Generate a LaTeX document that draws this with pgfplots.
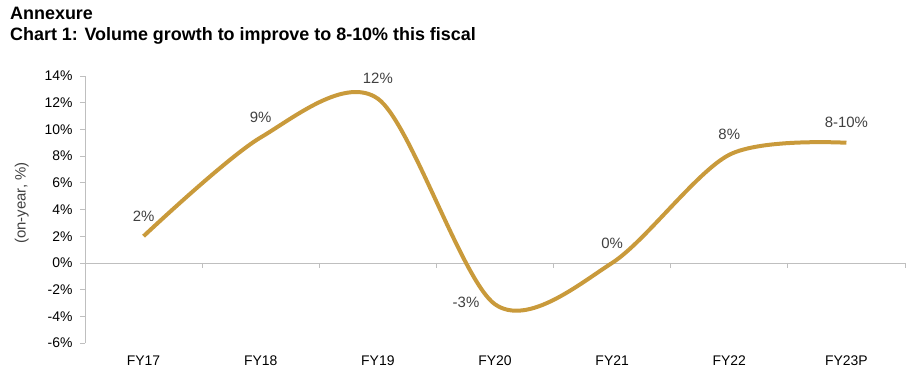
\documentclass[border=0pt]{standalone}
\usepackage{pgfplots}
\pgfplotsset{compat=1.18}
\usepackage{fontspec}
\setmainfont{Liberation Sans}
\definecolor{gold}{HTML}{C99A3B}
\definecolor{axgray}{HTML}{BFBFBF}
\definecolor{txt}{HTML}{404040}
\begin{document}
\begin{tikzpicture}[x=1bp,y=1bp]
\useasboundingbox (0,0) rectangle (921,390);
\node[anchor=base west, font=\fontsize{18}{21}\selectfont\bfseries, inner sep=0] at (10,371) {Annexure};
\node[anchor=base west, font=\fontsize{18}{21}\selectfont\bfseries, inner sep=0] at (10,350) {Chart 1: Volume growth to improve to 8-10\% this fiscal};
\begin{axis}[
  at={(85bp,47bp)}, anchor=south west,
  width=820bp, height=267bp, scale only axis,
  xmin=-0.5, xmax=6.5, ymin=-6, ymax=14,
  axis x line*=bottom, x axis line style={draw=none},
  xtick={0,...,6}, xticklabels={FY17,FY18,FY19,FY20,FY21,FY22,FY23P},
  x tick style={draw=none},
  xticklabel style={yshift=-4bp},
  axis y line*=left, y axis line style={axgray, line width=0.75bp},
  ytick={-6,-4,...,14},
  yticklabels={-6\%,-4\%,-2\%,0\%,2\%,4\%,6\%,8\%,10\%,12\%,14\%},
  y tick style={axgray, line width=0.75bp},
  yticklabel style={xshift=-4bp},
  tick align=outside, major tick length=5bp,
  ticklabel style={font=\fontsize{14}{16}\selectfont, text=black},
  ylabel={(on-year, \%)},
  ylabel style={font=\fontsize{15}{17}\selectfont, text=txt, at={(axis description cs:-0.077,0.524)}, anchor=center, rotate=0},
  clip=false,
]
\draw[axgray, line width=0.75bp] (axis cs:-0.5,0) -- (axis cs:6.5,0);
\pgfplotsinvokeforeach{0.5,1.5,2.5,3.5,4.5,5.5,6.5}{
  \draw[axgray, line width=0.75bp] (axis cs:#1,0) -- ([yshift=-5bp]axis cs:#1,0);
}
\addplot[gold, line width=4bp, smooth] coordinates {
  (0,2.0) (1,9.4) (2,12.3) (3,-3.1) (4,0.0) (5,8.1) (6,9.0)
};
\addplot[draw=none, mark=none, nodes near coords, point meta=explicit symbolic,
  nodes near coords style={anchor=center, yshift=20bp, text=txt, font=\fontsize{15}{17}\selectfont}]
  coordinates {
  (0,2.0) [2\%] (1,9.4) [9\%] (2,12.3) [12\%] (4,0.0) [0\%] (5,8.1) [8\%] (6,9.0) [8-10\%]
};
\addplot[draw=none, mark=none, nodes near coords, point meta=explicit symbolic,
  nodes near coords style={anchor=center, xshift=-29bp, yshift=2bp, text=txt, font=\fontsize{15}{17}\selectfont}]
  coordinates {
  (3,-3.1) [-3\%]
};
\end{axis}
\end{tikzpicture}
\end{document}
